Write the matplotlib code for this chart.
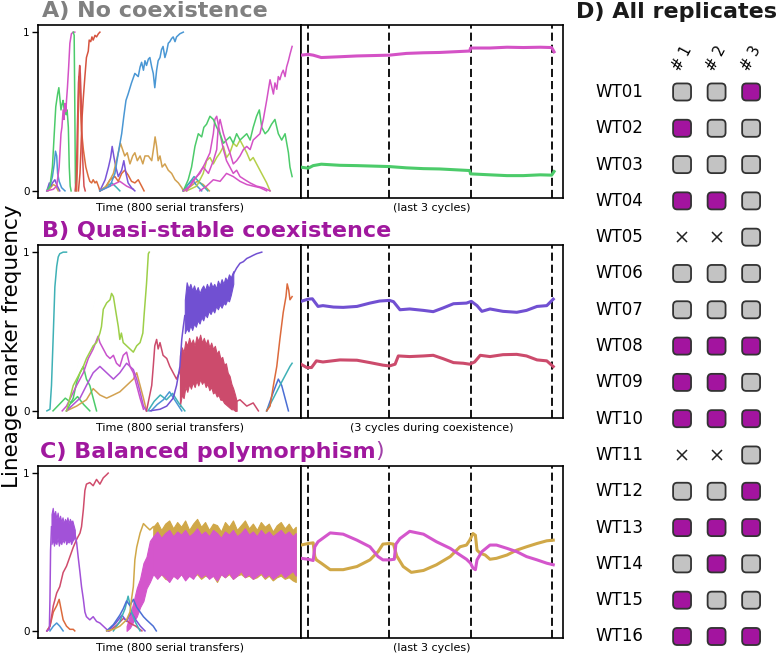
import matplotlib
matplotlib.use('Agg')
import matplotlib.pyplot as plt
from matplotlib.patches import FancyBboxPatch

# ---------------- data ----------------
# Panel A (time in transfers, lineage marker frequency)
A_green1_t = [0, 10, 18, 24, 29, 35, 39, 42, 46, 50, 53, 57, 60, 63, 66, 70, 73, 76, 79]
A_green1_f = [0, 0.03, 0.15, 0.36, 0.53, 0.61, 0.65, 0.59, 0.51, 0.55, 0.57, 0.50, 0.53, 0.48, 0.51, 0.40, 0.15, 0.03, 0]
A_mag1_t = [0, 21, 32, 40, 46, 49, 53, 56, 59, 62, 64, 67, 71, 75, 80, 86, 91]
A_mag1_f = [0, 0.01, 0.03, 0.15, 0.36, 0.40, 0.51, 0.45, 0.55, 0.50, 0.57, 0.65, 0.78, 0.93, 0.99, 1.0, 1.0]
A_green2_t = [86, 89, 91, 93, 95]
A_green2_f = [1.0, 0.98, 0.55, 0.05, 0.0]
A_blue1_t = [0, 10, 18, 24, 28, 32, 35, 40, 48, 59]
A_blue1_f = [0, 0.03, 0.09, 0.17, 0.25, 0.22, 0.11, 0.06, 0.02, 0]
A_purp1_t = [0, 8, 13, 18, 26, 34, 42]
A_purp1_f = [0, 0.05, 0.03, 0.05, 0.07, 0.03, 0]
A_orng1_t = [4, 12, 21, 29, 37]
A_orng1_f = [0, 0.02, 0.04, 0.03, 0.0]
A_red2_t = [92, 96, 99, 103, 107, 109, 112, 114, 118, 121, 125]
A_red2_f = [0, 0.07, 0.36, 0.68, 0.79, 0.74, 0.57, 0.32, 0.15, 0.03, 0]
A_ored2_t = [103, 108, 111, 115, 119, 124, 129, 135, 138, 143, 147, 151, 157, 162, 168, 173]
A_ored2_f = [0, 0.11, 0.26, 0.47, 0.59, 0.72, 0.84, 0.88, 0.95, 0.94, 0.97, 0.95, 0.98, 0.97, 0.99, 1.0]
A_brown2_t = [97, 100, 103, 105, 108, 110, 113, 119, 127, 135, 140, 146, 151, 157, 162, 168, 173]
A_brown2_f = [0, 0.19, 0.57, 0.72, 0.68, 0.51, 0.38, 0.26, 0.15, 0.09, 0.06, 0.05, 0.07, 0.05, 0.06, 0.03, 0]
A_blue3_t = [173, 206, 222, 233, 244, 251, 258, 265, 276, 287, 298, 304, 309, 315, 320, 325, 331, 336, 342, 347,
             352, 358, 363, 369, 374, 379, 385, 391, 396, 401, 407, 412, 418, 423, 434, 445]
A_blue3_f = [0, 0.03, 0.11, 0.24, 0.36, 0.47, 0.57, 0.61, 0.68, 0.74, 0.72, 0.78, 0.81, 0.76, 0.82, 0.79, 0.83, 0.84,
             0.78, 0.74, 0.65, 0.76, 0.82, 0.84, 0.89, 0.91, 0.84, 0.88, 0.93, 0.94, 0.96, 0.97, 0.94, 0.97, 0.99, 1.0]
A_gold3_t = [173, 195, 217, 233, 240, 247, 254, 262, 271, 280, 287, 295, 304, 313, 320, 331, 342, 349, 353, 358,
             363, 369, 376, 385, 396, 407, 418, 429, 440, 445]
A_gold3_f = [0, 0.03, 0.11, 0.24, 0.30, 0.26, 0.22, 0.24, 0.17, 0.22, 0.24, 0.19, 0.22, 0.17, 0.22, 0.22, 0.19, 0.28,
             0.34, 0.28, 0.19, 0.22, 0.15, 0.17, 0.13, 0.11, 0.07, 0.05, 0.02, 0]
A_purp3_t = [173, 190, 201, 208, 213, 219, 225, 233, 244, 251, 258, 265, 276, 287]
A_purp3_f = [0, 0.07, 0.15, 0.21, 0.28, 0.21, 0.15, 0.09, 0.13, 0.19, 0.11, 0.05, 0.02, 0]
A_ored3_t = [173, 190, 206, 222, 233, 244, 254, 265, 276, 287, 298, 309, 317]
A_ored3_f = [0, 0.02, 0.07, 0.09, 0.06, 0.11, 0.13, 0.10, 0.06, 0.05, 0.07, 0.03, 0]
A_mag3_t = [173, 195, 217, 238, 260, 282]
A_mag3_f = [0, 0.02, 0.04, 0.06, 0.03, 0.01]
A_teal3_t = [173, 195, 212, 228, 238]
A_teal3_f = [0, 0.03, 0.05, 0.02, 0]
A_green4_t = [445, 461, 472, 483, 494, 505, 512, 521, 532, 543, 554, 565, 576, 586, 597, 608, 619, 630, 641, 652,
              663, 673, 684, 693, 701, 712, 722, 733, 744, 755, 766, 777, 788, 793, 800]
A_green4_f = [0, 0.07, 0.15, 0.28, 0.36, 0.34, 0.40, 0.42, 0.47, 0.45, 0.40, 0.36, 0.30, 0.32, 0.34, 0.30, 0.36,
              0.32, 0.34, 0.36, 0.32, 0.40, 0.47, 0.51, 0.40, 0.36, 0.38, 0.42, 0.45, 0.36, 0.32, 0.36, 0.24, 0.15, 0.09]
A_mag4_t = [445, 467, 489, 510, 527, 543, 554, 559, 565, 576, 586, 597, 608, 619, 630, 641, 652, 663, 673, 684,
            695, 706, 717, 728, 733, 739, 744, 750, 755, 760, 766, 771, 777, 782, 788, 793, 800]
A_mag4_f = [0, 0.03, 0.09, 0.15, 0.11, 0.19, 0.26, 0.40, 0.45, 0.36, 0.30, 0.24, 0.17, 0.19, 0.22, 0.26, 0.28,
            0.26, 0.32, 0.34, 0.36, 0.45, 0.57, 0.70, 0.66, 0.61, 0.68, 0.64, 0.72, 0.70, 0.74, 0.76, 0.72, 0.78,
            0.82, 0.86, 0.91]
A_mag4b_t = [456, 478, 499, 515, 532, 543, 548, 554, 565, 576, 586, 597, 608, 619, 630, 646, 663, 684, 706, 728]
A_mag4b_f = [0, 0.07, 0.11, 0.17, 0.24, 0.36, 0.45, 0.47, 0.36, 0.26, 0.19, 0.15, 0.11, 0.13, 0.09, 0.07, 0.05,
             0.03, 0.02, 0]
A_lime4_t = [456, 489, 510, 521, 532, 543, 554, 565, 576, 586, 597, 608, 619, 630, 641, 652, 663, 673, 684, 695,
             706, 717, 728]
A_lime4_f = [0, 0.03, 0.11, 0.19, 0.21, 0.17, 0.21, 0.24, 0.28, 0.21, 0.24, 0.30, 0.28, 0.32, 0.28, 0.24, 0.19,
             0.21, 0.17, 0.13, 0.09, 0.05, 0]
A_mag4c_t = [499, 521, 543, 565, 586, 608, 630, 652, 673, 695, 717]
A_mag4c_f = [0, 0.03, 0.07, 0.06, 0.11, 0.09, 0.06, 0.04, 0.03, 0.02, 0]
A_teal4_t = [445, 465, 480, 495, 510, 525]
A_teal4_f = [0, 0.05, 0.09, 0.06, 0.03, 0]
A_blue4_t = [445, 460, 475, 490, 505]
A_blue4_f = [0, 0.04, 0.07, 0.03, 0]
A_orng4_t = [450, 470, 490, 510, 530]
A_orng4_f = [0, 0.03, 0.06, 0.04, 0]

# Panel A, last 3 cycles
A_cyc_t = [-0.09, 0, 0.06, 0.16, 0.39, 0.60, 1.0, 1.21, 1.42, 1.62, 1.99, 2.0, 2.24, 2.45, 2.65, 2.86, 3.0, 3.03]
A_cyc_mag = [0.855, 0.86, 0.855, 0.84, 0.845, 0.85, 0.855, 0.866, 0.87, 0.872, 0.881, 0.90, 0.90, 0.905, 0.903,
             0.905, 0.903, 0.876]
A_cyc_green = [0.149, 0.143, 0.159, 0.168, 0.161, 0.159, 0.153, 0.145, 0.140, 0.138, 0.128, 0.107, 0.101, 0.096,
               0.096, 0.101, 0.099, 0.122]

# Panel B
B_teal_t = [0, 10, 15, 21, 26, 32, 37, 42, 53, 64]
B_teal_f = [0, 0.01, 0.16, 0.49, 0.78, 0.91, 0.97, 0.99, 1.0, 1.0]
B_lime_t = [64, 75, 86, 97, 108, 119, 129, 140, 151, 162, 173, 178, 184, 195, 206, 211, 217, 222, 227, 233, 238,
            243, 249, 260, 271, 282, 293, 304, 313, 317, 325, 331, 334]
B_lime_f = [0, 0.08, 0.16, 0.20, 0.24, 0.28, 0.33, 0.37, 0.41, 0.43, 0.49, 0.53, 0.64, 0.68, 0.70, 0.74, 0.72,
            0.66, 0.60, 0.53, 0.45, 0.49, 0.43, 0.41, 0.39, 0.37, 0.41, 0.43, 0.49, 0.60, 0.80, 0.99, 1.0]
B_green_t = [64, 86, 97, 108, 119, 129, 140, 151, 162]
B_green_f = [0, 0.08, 0.18, 0.24, 0.28, 0.20, 0.16, 0.08, 0]
B_mag_t = [50, 64, 97, 119, 135, 151, 167, 173, 184, 195, 206, 217, 227, 238, 249, 260, 271, 282, 293, 304, 315]
B_mag_f = [0, 0.03, 0.16, 0.24, 0.33, 0.39, 0.47, 0.43, 0.39, 0.35, 0.33, 0.35, 0.30, 0.28, 0.35, 0.37, 0.28,
           0.24, 0.16, 0.08, 0.01]
B_violet_t = [64, 108, 129, 151, 173, 195, 217, 238, 260, 282, 293, 304, 315, 325]
B_violet_f = [0, 0.08, 0.16, 0.24, 0.28, 0.24, 0.20, 0.24, 0.30, 0.26, 0.20, 0.12, 0.03, 0]
B_gold_t = [64, 97, 129, 151, 173, 195, 217, 238, 260, 282, 293, 304, 315, 325]
B_gold_f = [0, 0.03, 0.07, 0.14, 0.10, 0.08, 0.10, 0.12, 0.16, 0.20, 0.24, 0.16, 0.08, 0]
B_small1_t = [20, 40, 60, 80, 100, 120, 140]
B_small1_f = [0, 0.04, 0.08, 0.05, 0.09, 0.04, 0]
B_small2_t = [330, 350, 370, 390, 410, 430, 450]
B_small2_f = [0, 0.06, 0.10, 0.07, 0.11, 0.05, 0]
B_small3_t = [340, 360, 380, 400, 420, 440]
B_small3_f = [0, 0.04, 0.07, 0.12, 0.06, 0]
B_purp_rise_t = [336, 369, 391, 412, 423, 434, 440, 445, 450]
B_purp_rise_f = [0, 0.01, 0.03, 0.08, 0.16, 0.28, 0.45, 0.53, 0.60]
B_purp_band_t = [450, 456, 462, 468, 474, 480, 486, 492, 498, 504, 510, 516, 522, 528, 534, 540, 546, 552, 558,
                 564, 570, 576, 582, 588, 594, 600, 608]
B_purp_band_hi = [0.70, 0.81, 0.77, 0.80, 0.76, 0.79, 0.75, 0.78, 0.74, 0.77, 0.79, 0.76, 0.80, 0.77, 0.81, 0.78,
                  0.80, 0.77, 0.82, 0.79, 0.83, 0.80, 0.84, 0.82, 0.86, 0.84, 0.88]
B_purp_band_lo = [0.49, 0.52, 0.50, 0.54, 0.51, 0.55, 0.53, 0.57, 0.55, 0.59, 0.57, 0.61, 0.59, 0.63, 0.61, 0.64,
                  0.62, 0.66, 0.64, 0.67, 0.65, 0.68, 0.67, 0.70, 0.69, 0.73, 0.80]
B_purp_fix_t = [608, 619, 630, 641, 652, 663, 673, 684, 701]
B_purp_fix_f = [0.86, 0.90, 0.93, 0.94, 0.96, 0.97, 0.98, 0.99, 1.0]
B_red_rise_t = [325, 342, 347, 352, 358, 363, 369, 379, 391, 401, 412, 423, 434]
B_red_rise_f = [0, 0.16, 0.28, 0.41, 0.45, 0.39, 0.43, 0.35, 0.33, 0.28, 0.24, 0.20, 0.25]
B_red_band_t = [434, 440, 446, 452, 458, 464, 470, 476, 482, 488, 494, 500, 506, 512, 518, 524, 530, 536, 542,
                548, 554, 560, 566, 572, 578, 584, 590, 596, 602, 608, 614, 619]
B_red_band_hi = [0.35, 0.40, 0.37, 0.44, 0.41, 0.46, 0.42, 0.45, 0.41, 0.47, 0.44, 0.48, 0.43, 0.46, 0.42, 0.45,
                 0.40, 0.43, 0.39, 0.41, 0.36, 0.38, 0.33, 0.34, 0.29, 0.30, 0.24, 0.22, 0.17, 0.14, 0.10, 0.06]
B_red_band_lo = [0.03, 0.10, 0.08, 0.15, 0.12, 0.17, 0.14, 0.18, 0.15, 0.19, 0.16, 0.20, 0.17, 0.19, 0.15, 0.17,
                 0.13, 0.15, 0.11, 0.12, 0.09, 0.10, 0.07, 0.07, 0.05, 0.04, 0.03, 0.02, 0.01, 0.01, 0.0, 0.0]
B_red_tail_t = [608, 630, 652, 673, 690]
B_red_tail_f = [0.05, 0.07, 0.03, 0.05, 0]
B_orng_t = [717, 728, 739, 750, 760, 771, 780, 784, 789, 793, 800]
B_orng_f = [0, 0.03, 0.16, 0.28, 0.45, 0.62, 0.72, 0.80, 0.76, 0.70, 0.72]
B_teal2_t = [717, 739, 760, 771, 782, 793, 800]
B_teal2_f = [0, 0.08, 0.16, 0.20, 0.24, 0.28, 0.30]
B_blue2_t = [717, 739, 755, 766, 777, 788]
B_blue2_f = [0, 0.12, 0.20, 0.16, 0.08, 0]

B_cyc_purp_t = [-0.09, 0, 0.05, 0.12, 0.18, 0.31, 0.43, 0.60, 0.76, 0.88, 1.0, 1.05, 1.13, 1.25, 1.42, 1.54, 1.66,
                1.79, 1.95, 2.01, 2.08, 2.14, 2.24, 2.40, 2.57, 2.69, 2.82, 2.94, 3.02]
B_cyc_purp_f = [0.690, 0.704, 0.706, 0.658, 0.663, 0.654, 0.652, 0.658, 0.679, 0.692, 0.696, 0.688, 0.637, 0.642,
                0.633, 0.625, 0.648, 0.675, 0.679, 0.690, 0.663, 0.627, 0.642, 0.627, 0.621, 0.633, 0.658, 0.663, 0.704]
B_cyc_red_t = [-0.09, -0.02, 0.04, 0.10, 0.18, 0.39, 0.60, 0.76, 0.92, 1.0, 1.07, 1.11, 1.25, 1.42, 1.54, 1.66,
               1.79, 1.91, 1.99, 2.05, 2.12, 2.24, 2.40, 2.57, 2.69, 2.82, 2.94, 3.02]
B_cyc_red_f = [0.294, 0.273, 0.273, 0.315, 0.308, 0.321, 0.319, 0.304, 0.288, 0.283, 0.294, 0.346, 0.342, 0.346,
               0.350, 0.329, 0.304, 0.300, 0.294, 0.308, 0.350, 0.342, 0.354, 0.356, 0.346, 0.321, 0.315, 0.279]

# Panel C
C_purp_rise_t = [0, 8, 10, 12, 15]
C_purp_rise_f = [0, 0.01, 0.20, 0.51, 0.66]
C_purp_band_t = [15, 19, 23, 27, 31, 35, 39, 43, 47, 51, 55, 59, 63, 67, 71, 75, 79, 83, 87, 91]
C_purp_band_hi = [0.74, 0.78, 0.73, 0.76, 0.71, 0.75, 0.70, 0.73, 0.69, 0.72, 0.68, 0.71, 0.69, 0.72, 0.68, 0.71,
                  0.69, 0.70, 0.67, 0.64]
C_purp_band_lo = [0.55, 0.58, 0.54, 0.57, 0.55, 0.59, 0.54, 0.57, 0.55, 0.58, 0.56, 0.59, 0.55, 0.57, 0.56, 0.58,
                  0.55, 0.57, 0.58, 0.60]
C_purp_fall_t = [91, 97, 102, 108, 113, 119, 124, 129, 140, 151, 162, 173, 184, 195, 200]
C_purp_fall_f = [0.62, 0.56, 0.47, 0.37, 0.28, 0.20, 0.12, 0.09, 0.07, 0.09, 0.06, 0.05, 0.03, 0.01, 0]
C_red_t = [0, 10, 21, 32, 42, 53, 64, 75, 86, 97, 108, 113, 119, 124, 129, 140, 151, 162, 173, 184, 195, 200]
C_red_f = [0, 0.03, 0.16, 0.24, 0.28, 0.37, 0.41, 0.47, 0.53, 0.58, 0.62, 0.66, 0.77, 0.89, 0.93, 0.94, 0.92,
           0.96, 0.93, 0.97, 0.99, 1.0]
C_orng_t = [0, 10, 21, 32, 40, 44, 53, 64, 75, 86, 91]
C_orng_f = [0, 0.03, 0.12, 0.16, 0.20, 0.16, 0.07, 0.03, 0.01, 0.01, 0]
C_blue1_t = [10, 21, 32, 42, 53]
C_blue1_f = [0, 0.03, 0.05, 0.03, 0]
C_gold_rise_t = [195, 217, 238, 260, 271, 276, 282, 287, 293, 304, 315, 325, 336, 347]
C_gold_rise_f = [0, 0.01, 0.03, 0.07, 0.12, 0.20, 0.28, 0.45, 0.53, 0.62, 0.68, 0.66, 0.64, 0.66]
C_pink_rise_t = [260, 271, 282, 293, 304, 315, 325, 336, 347]
C_pink_rise_hi = [0.03, 0.10, 0.18, 0.27, 0.33, 0.43, 0.47, 0.57, 0.60]
C_pink_rise_lo = [0.0, 0.02, 0.06, 0.09, 0.15, 0.19, 0.27, 0.31, 0.36]
C_flat_t = [347, 360, 373, 386, 399, 412, 425, 438, 451, 464, 477, 490, 503, 516, 529, 542, 555, 568, 581, 594,
            607, 620, 633, 646, 659, 672, 685, 698, 711, 724, 737, 750, 763, 776, 789, 802, 812]
C_pink_hi = [0.60, 0.63, 0.59, 0.62, 0.64, 0.60, 0.63, 0.61, 0.64, 0.60, 0.62, 0.65, 0.61, 0.63, 0.60, 0.64, 0.62,
             0.59, 0.63, 0.61, 0.64, 0.60, 0.62, 0.65, 0.61, 0.63, 0.60, 0.64, 0.61, 0.63, 0.60, 0.62, 0.64, 0.61,
             0.63, 0.60, 0.62]
C_pink_lo = [0.36, 0.33, 0.36, 0.34, 0.31, 0.35, 0.33, 0.36, 0.32, 0.35, 0.33, 0.37, 0.34, 0.36, 0.33, 0.35, 0.32,
             0.36, 0.34, 0.37, 0.33, 0.35, 0.38, 0.34, 0.36, 0.33, 0.35, 0.37, 0.34, 0.36, 0.33, 0.35, 0.37, 0.34,
             0.36, 0.38, 0.35]
C_gold_hi = [0.66, 0.69, 0.64, 0.68, 0.70, 0.65, 0.69, 0.66, 0.70, 0.64, 0.68, 0.71, 0.66, 0.69, 0.64, 0.68, 0.67,
             0.63, 0.69, 0.66, 0.70, 0.64, 0.67, 0.70, 0.65, 0.68, 0.64, 0.69, 0.66, 0.68, 0.63, 0.67, 0.69, 0.65,
             0.68, 0.64, 0.66]
C_gold_lo = [0.38, 0.34, 0.36, 0.33, 0.32, 0.35, 0.34, 0.36, 0.33, 0.35, 0.34, 0.36, 0.33, 0.35, 0.34, 0.35, 0.31,
             0.36, 0.34, 0.36, 0.33, 0.35, 0.36, 0.34, 0.35, 0.33, 0.34, 0.36, 0.33, 0.35, 0.32, 0.34, 0.35, 0.33,
             0.34, 0.32, 0.31]
C_blue2_t = [195, 217, 238, 249, 260, 271, 282, 293, 304, 315, 325, 336, 347, 357]
C_blue2_f = [0, 0.04, 0.10, 0.14, 0.19, 0.16, 0.20, 0.15, 0.12, 0.09, 0.07, 0.05, 0.03, 0]
C_teal2_t = [217, 238, 255, 265, 276, 290, 304]
C_teal2_f = [0, 0.06, 0.14, 0.22, 0.12, 0.05, 0]
C_purp2_t = [200, 225, 245, 260, 275, 290, 305, 320]
C_purp2_f = [0, 0.05, 0.10, 0.06, 0.12, 0.07, 0.03, 0]
C_red2_t = [205, 230, 250, 270, 290, 310]
C_red2_f = [0, 0.04, 0.08, 0.05, 0.03, 0]

C_cyc_gold_t = [-0.09, 0, 0.06, 0.08, 0.10, 0.16, 0.27, 0.43, 0.60, 0.76, 0.86, 0.92, 1.0, 1.05, 1.09, 1.17, 1.27,
                1.42, 1.58, 1.75, 1.87, 1.95, 1.99, 2.03, 2.06, 2.08, 2.12, 2.18, 2.24, 2.32, 2.45, 2.57, 2.69, 2.82,
                2.94, 3.02]
C_cyc_gold_f = [0.544, 0.554, 0.558, 0.471, 0.450, 0.429, 0.388, 0.388, 0.408, 0.450, 0.502, 0.550, 0.554, 0.550,
                0.475, 0.408, 0.371, 0.383, 0.419, 0.471, 0.533, 0.544, 0.575, 0.617, 0.606, 0.512, 0.492, 0.481,
                0.454, 0.460, 0.481, 0.512, 0.533, 0.554, 0.571, 0.575]
C_cyc_mag_t = [-0.09, 0, 0.06, 0.08, 0.12, 0.27, 0.43, 0.60, 0.76, 0.86, 0.92, 1.0, 1.06, 1.08, 1.13, 1.25, 1.42,
               1.58, 1.75, 1.87, 1.95, 2.0, 2.03, 2.06, 2.08, 2.14, 2.24, 2.32, 2.45, 2.57, 2.69, 2.82, 2.94, 3.02]
C_cyc_mag_f = [0.460, 0.454, 0.446, 0.533, 0.565, 0.621, 0.613, 0.575, 0.533, 0.471, 0.450, 0.450, 0.454, 0.550,
               0.585, 0.631, 0.613, 0.565, 0.523, 0.481, 0.454, 0.429, 0.398, 0.388, 0.450, 0.502, 0.544, 0.544,
               0.523, 0.502, 0.471, 0.450, 0.429, 0.419]

cycle_bounds = [0, 1, 2, 3]

# Panel D
strains = ['WT01', 'WT02', 'WT03', 'WT04', 'WT05', 'WT06', 'WT07', 'WT08',
           'WT09', 'WT10', 'WT11', 'WT12', 'WT13', 'WT14', 'WT15', 'WT16']
replicates = ['# 1', '# 2', '# 3']
rep1 = ['n', 'c', 'n', 'c', 'x', 'n', 'n', 'c', 'c', 'c', 'x', 'n', 'c', 'n', 'c', 'c']
rep2 = ['n', 'n', 'n', 'c', 'x', 'n', 'n', 'c', 'c', 'c', 'x', 'n', 'c', 'c', 'n', 'c']
rep3 = ['c', 'n', 'n', 'n', 'n', 'n', 'n', 'c', 'n', 'c', 'n', 'c', 'c', 'n', 'n', 'c']

# ---------------- colours ----------------
MAG = '#d452c6'
GRN = '#4ccb6a'
BLU = '#4a97d4'
RED = '#d44f52'
ORED = '#dc6a3c'
GOLD = '#d2a150'
PURP = '#7a55d8'
LIME = '#b5d04a'
TEAL = '#3fb1b6'
TITLE_PURPLE = '#a0189e'
BOX_MAG = '#a3149f'
BOX_GREY = '#c3c3c3'

W, H = 777, 655
fig = plt.figure(figsize=(W / 100, H / 100), dpi=100)


def px_axes(x0, y0, x1, y1):
    return fig.add_axes([x0 / W, 1 - y1 / H, (x1 - x0) / W, (y1 - y0) / H])


rows = [(25, 198), (245, 418), (466, 638)]
LW = 1.1


def style_left(ax):
    ax.set_xlim(-29, 829)
    ax.set_ylim(-0.045, 1.045)
    ax.set_xticks([])
    ax.set_yticks([0, 1])
    ax.set_yticklabels(['0', '1'])
    ax.tick_params(axis='y', length=4, width=1, labelsize=7.5, pad=2)
    for s in ax.spines.values():
        s.set_linewidth(1.2)


def style_right(ax):
    ax.set_xlim(-0.09, 3.14)
    ax.set_ylim(-0.045, 1.045)
    ax.set_xticks([])
    ax.set_yticks([])
    for s in ax.spines.values():
        s.set_linewidth(1.2)
    for b in cycle_bounds:
        ax.axvline(b, color='black', ls=(0, (4.5, 2.2)), lw=1.3, zorder=1)


axes_left = []
axes_right = []
for (y0, y1) in rows:
    axes_left.append(px_axes(38, y0, 301, y1))
    axes_right.append(px_axes(301, y0, 563, y1))

# ----- Panel A -----
ax = axes_left[0]
for t, f, c in [
    (A_orng1_t, A_orng1_f, GOLD), (A_purp1_t, A_purp1_f, PURP), (A_blue1_t, A_blue1_f, BLU),
    (A_green1_t, A_green1_f, GRN), (A_mag1_t, A_mag1_f, MAG), (A_green2_t, A_green2_f, GRN),
    (A_brown2_t, A_brown2_f, ORED), (A_red2_t, A_red2_f, RED), (A_ored2_t, A_ored2_f, '#d6533f'),
    (A_teal3_t, A_teal3_f, TEAL), (A_mag3_t, A_mag3_f, MAG), (A_ored3_t, A_ored3_f, ORED),
    (A_purp3_t, A_purp3_f, PURP), (A_gold3_t, A_gold3_f, GOLD), (A_blue3_t, A_blue3_f, BLU),
    (A_orng4_t, A_orng4_f, GOLD), (A_blue4_t, A_blue4_f, BLU), (A_teal4_t, A_teal4_f, TEAL),
    (A_mag4c_t, A_mag4c_f, MAG), (A_lime4_t, A_lime4_f, LIME), (A_mag4b_t, A_mag4b_f, MAG),
    (A_green4_t, A_green4_f, GRN), (A_mag4_t, A_mag4_f, MAG)]:
    ax.plot(t, f, color=c, lw=LW)
style_left(ax)

ax = axes_right[0]
style_right(ax)
ax.plot(A_cyc_t, A_cyc_mag, color=MAG, lw=2.2, zorder=3)
ax.plot(A_cyc_t, A_cyc_green, color=GRN, lw=2.2, zorder=3)

# ----- Panel B -----
ax = axes_left[1]
B_PURP = '#7150d2'
B_RED = '#cc4b6c'
for t, f, c in [
    (B_small1_t, B_small1_f, GRN), (B_teal_t, B_teal_f, TEAL), (B_gold_t, B_gold_f, GOLD),
    (B_green_t, B_green_f, GRN), (B_violet_t, B_violet_f, '#b054d6'), (B_mag_t, B_mag_f, '#c952cc'),
    (B_lime_t, B_lime_f, '#9dcf48'), (B_small2_t, B_small2_f, TEAL), (B_small3_t, B_small3_f, BLU),
    (B_red_rise_t, B_red_rise_f, B_RED), (B_red_tail_t, B_red_tail_f, B_RED),
    (B_purp_rise_t, B_purp_rise_f, B_PURP), (B_purp_fix_t, B_purp_fix_f, B_PURP),
    (B_blue2_t, B_blue2_f, '#4b6fd4'), (B_teal2_t, B_teal2_f, TEAL), (B_orng_t, B_orng_f, ORED)]:
    ax.plot(t, f, color=c, lw=LW)
ax.fill_between(B_red_band_t, B_red_band_lo, B_red_band_hi, color=B_RED, lw=0.8)
ax.fill_between(B_purp_band_t, B_purp_band_lo, B_purp_band_hi, color=B_PURP, lw=0.8)
style_left(ax)

ax = axes_right[1]
style_right(ax)
ax.plot(B_cyc_purp_t, B_cyc_purp_f, color=B_PURP, lw=2.2, zorder=3)
ax.plot(B_cyc_red_t, B_cyc_red_f, color=B_RED, lw=2.2, zorder=3)

# ----- Panel C -----
ax = axes_left[2]
C_PURP = '#a252d8'
C_RED = '#d04c6c'
C_GOLD = '#d0a848'
C_PINK = '#d456cc'
for t, f, c in [
    (C_blue1_t, C_blue1_f, BLU), (C_orng_t, C_orng_f, ORED), (C_red_t, C_red_f, C_RED),
    (C_purp_rise_t, C_purp_rise_f, C_PURP), (C_purp_fall_t, C_purp_fall_f, C_PURP),
    (C_red2_t, C_red2_f, C_RED), (C_purp2_t, C_purp2_f, PURP), (C_teal2_t, C_teal2_f, TEAL),
    (C_blue2_t, C_blue2_f, '#4b6fd4'), (C_gold_rise_t, C_gold_rise_f, C_GOLD)]:
    ax.plot(t, f, color=c, lw=LW)
ax.fill_between(C_purp_band_t, C_purp_band_lo, C_purp_band_hi, color=C_PURP, lw=0.8)
ax.fill_between(C_flat_t, C_gold_lo, C_gold_hi, color=C_GOLD, lw=0.8)
ax.fill_between(C_pink_rise_t, C_pink_rise_lo, C_pink_rise_hi, color=C_PINK, lw=0.8)
ax.fill_between(C_flat_t, C_pink_lo, C_pink_hi, color=C_PINK, lw=0.8)
style_left(ax)

ax = axes_right[2]
style_right(ax)
ax.plot(C_cyc_gold_t, C_cyc_gold_f, color=C_GOLD, lw=2.2, zorder=3)
ax.plot(C_cyc_mag_t, C_cyc_mag_f, color=C_PINK, lw=2.2, zorder=3)

# axis labels under panels
right_labels = ['(last 3 cycles)', '(3 cycles during coexistence)', '(last 3 cycles)']
for axl, axr, rl in zip(axes_left, axes_right, right_labels):
    axl.text(0.5, -0.028, 'Time (800 serial transfers)', transform=axl.transAxes,
             ha='center', va='top', fontsize=8)
    axr.text(0.5, -0.028, rl, transform=axr.transAxes, ha='center', va='top', fontsize=8)

# titles
TFS = 16
fig.text(42 / W, 1 - 17.5 / H, 'A) No coexistence', fontsize=TFS, weight='bold',
         color='#808080', ha='left', va='baseline')
fig.text(42 / W, 1 - 237.5 / H, 'B) Quasi-stable coexistence', fontsize=TFS, weight='bold',
         color=TITLE_PURPLE, ha='left', va='baseline')
tc = fig.text(40 / W, 1 - 457.5 / H, 'C) Balanced polymorphism', fontsize=TFS, weight='bold',
              color=TITLE_PURPLE, ha='left', va='baseline')
fig.text(576 / W, 1 - 17.5 / H, 'D) All replicates', fontsize=TFS, weight='bold',
         color='#1a1a1a', ha='left', va='baseline')

fig.text(12 / W, 1 - 346 / H, 'Lineage marker frequency', rotation=90, fontsize=15.5,
         ha='center', va='center')

# ----- Panel D -----
axd = px_axes(583, 80, 777, 655)
axd.set_xlim(-1.87, 3.75)
axd.set_ylim(16.51, 0.67)
axd.axis('off')
bw, bh = 0.52, 0.47
for j, (name, col) in enumerate(zip(replicates, [rep1, rep2, rep3])):
    x = j + 1
    axd.text(x, 0.07, name, rotation=62, ha='center', va='center', fontsize=10.5, clip_on=False)
    for i, st in enumerate(col):
        y = i + 1
        if st == 'x':
            axd.plot(x, y, marker='x', ms=7.5, mew=1.1, color='#222222', clip_on=False)
        else:
            fc = BOX_MAG if st == 'c' else BOX_GREY
            axd.add_patch(FancyBboxPatch((x - bw / 2, y - bh / 2), bw, bh,
                                         boxstyle='round,pad=0,rounding_size=0.12',
                                         fc=fc, ec='#333333', lw=1.3, clip_on=False))
for i, name in enumerate(strains):
    axd.text(-1.52, i + 1, name, ha='left', va='center', fontsize=12, clip_on=False)

# trailing bracket of panel C title
fig.canvas.draw()
bb = tc.get_window_extent()
fig.text(bb.x1 / W, 1 - 457.5 / H, ')', fontsize=TFS, color='#a040a8',
         ha='left', va='baseline')

fig.savefig('out.png', dpi=100)
